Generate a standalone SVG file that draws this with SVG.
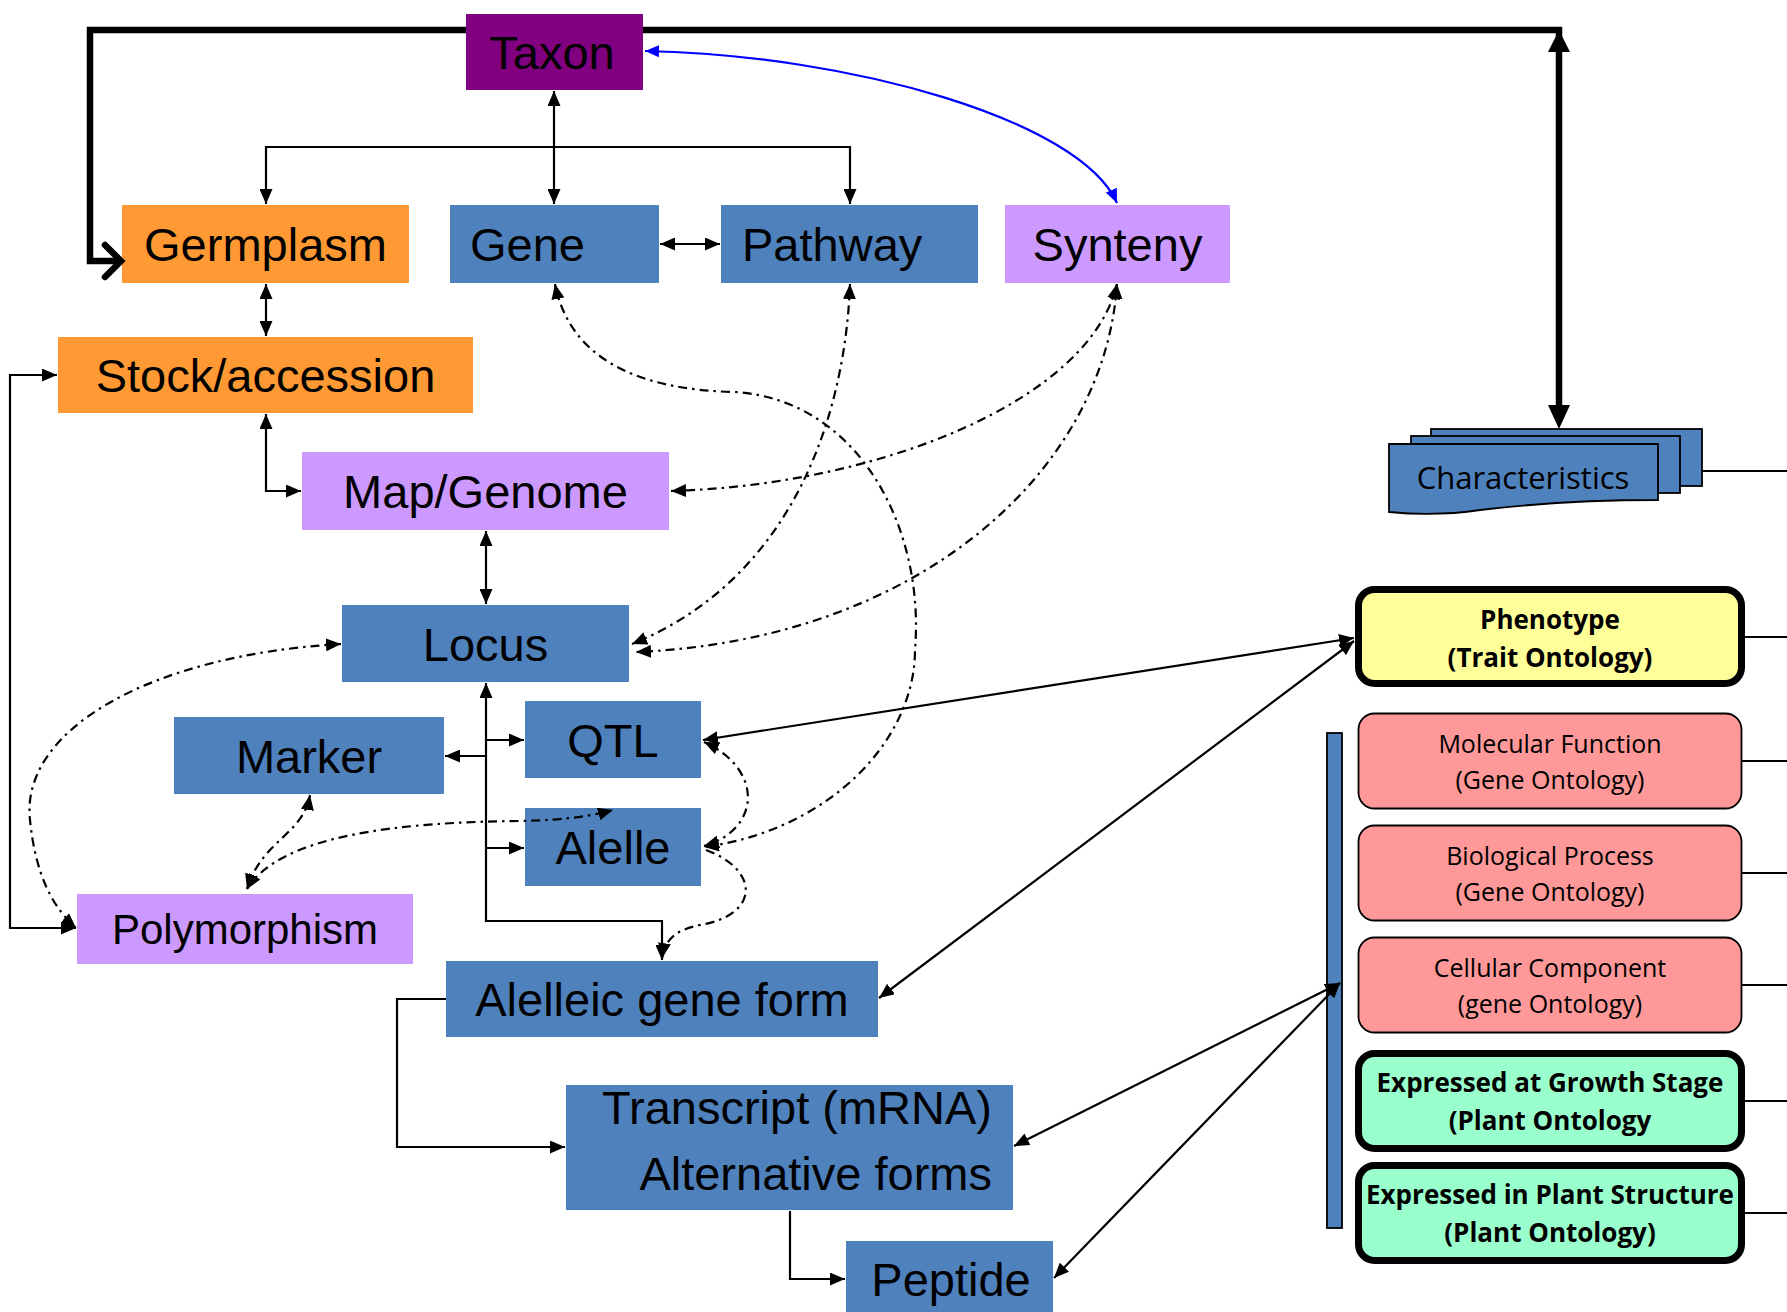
<svg xmlns="http://www.w3.org/2000/svg" width="1787" height="1312" viewBox="0 0 1787 1312">
<style>
.n{font-family:"Liberation Sans",Arial,sans-serif;font-size:47px;fill:#000}
.c{text-anchor:middle}
.sm{font-size:42px}
.o{font-family:"Open Sans","Liberation Sans",sans-serif;font-size:25px;fill:#000;text-anchor:middle}
.ob{font-family:"Open Sans","Liberation Sans",sans-serif;font-size:26px;font-weight:bold;fill:#000;text-anchor:middle}
.ln{fill:none;stroke:#000;stroke-width:2.2}
.dd{fill:none;stroke:#000;stroke-width:2.2;stroke-dasharray:9 5 2.5 5}
.thick{fill:none;stroke:#000;stroke-width:6.5}
.tl{fill:none;stroke:#000;stroke-width:1.8}
.blue{fill:#4F81BD}.orange{fill:#FF9933}.lilac{fill:#CC99FF}.purple{fill:#800080}
.pink{fill:#FF9999;stroke:#000;stroke-width:1.8}
.yel{fill:#FFFF99;stroke:#000;stroke-width:7}
.grn{fill:#99FFCC;stroke:#000;stroke-width:7}
</style>
<defs>
<marker id="a" markerUnits="userSpaceOnUse" markerWidth="15" markerHeight="13" refX="15" refY="6.5" orient="auto-start-reverse"><path d="M0,0 L15,6.5 L0,13 z" fill="#000"/></marker>
<marker id="b" markerUnits="userSpaceOnUse" markerWidth="14" markerHeight="12" refX="14" refY="6" orient="auto-start-reverse"><path d="M0,0 L14,6 L0,12 z" fill="#0000FF"/></marker>
</defs>

<g id="taxon"><rect class="purple" x="466" y="14" width="177" height="76"/><text class="n c" x="552" y="69">Taxon</text></g>
<g id="germplasm"><rect class="orange" x="122" y="205" width="287" height="78"/><text class="n c" x="265.5" y="261">Germplasm</text></g>
<g id="gene"><rect class="blue" x="450" y="205" width="209" height="78"/><text class="n" x="470" y="261">Gene</text></g>
<g id="pathway"><rect class="blue" x="721" y="205" width="257" height="78"/><text class="n" x="742" y="261">Pathway</text></g>
<g id="synteny"><rect class="lilac" x="1005" y="205" width="225" height="78"/><text class="n c" x="1117.5" y="261">Synteny</text></g>
<g id="stock"><rect class="orange" x="58" y="337" width="415" height="76"/><text class="n c" x="265.5" y="392">Stock/accession</text></g>
<g id="map"><rect class="lilac" x="302" y="452" width="367" height="78"/><text class="n c" x="485.5" y="508">Map/Genome</text></g>
<g id="locus"><rect class="blue" x="342" y="605" width="287" height="77"/><text class="n c" x="485.5" y="661">Locus</text></g>
<g id="qtl"><rect class="blue" x="525" y="701" width="176" height="77"/><text class="n c" x="613" y="757">QTL</text></g>
<g id="marker"><rect class="blue" x="174" y="717" width="270" height="77"/><text class="n c" x="309" y="773">Marker</text></g>
<g id="alelle"><rect class="blue" x="525" y="808" width="176" height="78"/><text class="n c" x="613" y="864">Alelle</text></g>
<g id="polymorphism"><rect class="lilac" x="77" y="894" width="336" height="70"/><text class="n c sm" x="245" y="944">Polymorphism</text></g>
<g id="alelleic"><rect class="blue" x="446" y="961" width="432" height="76"/><text class="n c" x="662" y="1016">Alelleic gene form</text></g>
<g id="transcript"><rect class="blue" x="566" y="1085" width="447" height="125"/><text class="n" x="992" y="1124" text-anchor="end">Transcript (mRNA)</text><text class="n" x="992" y="1190" text-anchor="end">Alternative forms</text></g>
<g id="peptide"><rect class="blue" x="846" y="1241" width="207" height="80"/><text class="n c" x="951" y="1296">Peptide</text></g>

<g id="characteristics">
<rect class="blue" x="1431" y="429" width="271" height="57" stroke="#000" stroke-width="1.8"/>
<rect class="blue" x="1411" y="436" width="269" height="57" stroke="#000" stroke-width="1.8"/>
<path class="blue" d="M1389 444 H1658 V500 C1600 500,1530 504,1480 510 C1440 516,1410 514,1389 512 Z" stroke="#000" stroke-width="1.8"/>
<text x="1523" y="489" font-family="'Open Sans','Liberation Sans',sans-serif" font-size="31" text-anchor="middle">Characteristics</text>
</g>

<g id="bar"><rect class="blue" x="1327" y="733" width="15" height="495" stroke="#000" stroke-width="1.8"/></g>

<g id="phenotype"><rect class="yel" x="1358.5" y="589.5" width="383" height="94" rx="16"/><text class="ob" x="1550" y="629">Phenotype</text><text class="ob" x="1550" y="667">(Trait Ontology)</text></g>
<g id="molecular"><rect class="pink" x="1358.5" y="713.5" width="383" height="95" rx="16"/><text class="o" x="1550" y="753">Molecular Function</text><text class="o" x="1550" y="789">(Gene Ontology)</text></g>
<g id="biological"><rect class="pink" x="1358.5" y="825.5" width="383" height="95" rx="16"/><text class="o" x="1550" y="865">Biological Process</text><text class="o" x="1550" y="901">(Gene Ontology)</text></g>
<g id="cellular"><rect class="pink" x="1358.5" y="937.5" width="383" height="95" rx="16"/><text class="o" x="1550" y="977">Cellular Component</text><text class="o" x="1550" y="1013">(gene Ontology)</text></g>
<g id="growth"><rect class="grn" x="1358.5" y="1053.5" width="383" height="95" rx="16"/><text class="ob" x="1550" y="1092">Expressed at Growth Stage</text><text class="ob" x="1550" y="1130">(Plant Ontology</text></g>
<g id="structure"><rect class="grn" x="1358.5" y="1165.5" width="383" height="95" rx="16"/><text class="ob" x="1550" y="1204">Expressed in Plant Structure</text><text class="ob" x="1550" y="1242">(Plant Ontology)</text></g>

<g id="connectors">
<path class="thick" d="M643 30 H1559 V410"/>
<path class="thick" d="M466 30 H90 V261 H118"/>
<path class="thick" d="M105 245 L121 261 L105 277" stroke-linecap="round"/>
<path d="M1559 30 L1548 52 L1570 52 z" fill="#000"/>
<path d="M1559 429 L1548 405 L1570 405 z" fill="#000"/>
<path d="M645 51 C850 55,1080 120,1117 203" fill="none" stroke="#0000FF" stroke-width="2.2" marker-start="url(#b)" marker-end="url(#b)"/>

<path class="ln" d="M554 91 V204" marker-start="url(#a)" marker-end="url(#a)"/>
<path class="ln" d="M266 204 V147 H850 V204" marker-start="url(#a)" marker-end="url(#a)"/>
<path class="ln" d="M660 244 H720" marker-start="url(#a)" marker-end="url(#a)"/>
<path class="ln" d="M266 284 V336" marker-start="url(#a)" marker-end="url(#a)"/>
<path class="ln" d="M266 414 V491 H301" marker-start="url(#a)" marker-end="url(#a)"/>
<path class="ln" d="M486 531 V604" marker-start="url(#a)" marker-end="url(#a)"/>
<path class="ln" d="M486 683 V921 H662 V960" marker-start="url(#a)" marker-end="url(#a)"/>
<path class="ln" d="M486 740 H524" marker-end="url(#a)"/>
<path class="ln" d="M486 756 H445" marker-end="url(#a)"/>
<path class="ln" d="M486 848 H524" marker-end="url(#a)"/>
<path class="ln" d="M76 928 H10 V375 H57" marker-start="url(#a)" marker-end="url(#a)"/>
<path class="ln" d="M446 999 H397 V1147 H565" marker-end="url(#a)"/>
<path class="ln" d="M790 1211 V1279 H845" marker-end="url(#a)"/>
<path class="ln" d="M703 740 L1354 638" marker-start="url(#a)" marker-end="url(#a)"/>
<path class="ln" d="M879 998 L1354 641" marker-start="url(#a)" marker-end="url(#a)"/>
<path class="ln" d="M1014 1146 L1340 983" marker-start="url(#a)" marker-end="url(#a)"/>
<path class="ln" d="M1054 1278 L1340 983" marker-start="url(#a)" marker-end="url(#a)"/>

<path class="dd" d="M555 284 C570 360,640 390,735 392 C860 400,925 530,915 650 C915 740,830 830,704 847" marker-start="url(#a)" marker-end="url(#a)"/>
<path class="dd" d="M850 284 C845 420,790 580,632 644" marker-start="url(#a)" marker-end="url(#a)"/>
<path class="dd" d="M1117 284 C1090 400,880 485,671 491" marker-start="url(#a)" marker-end="url(#a)"/>
<path class="dd" d="M1117 284 C1105 470,920 640,636 652" marker-start="url(#a)" marker-end="url(#a)"/>
<path class="dd" d="M341 644 C150 655,20 730,30 820 C35 870,50 905,76 928" marker-start="url(#a)" marker-end="url(#a)"/>
<path class="dd" d="M310 795 C303 835,262 840,247 889" marker-start="url(#a)" marker-end="url(#a)"/>
<path class="dd" d="M247 889 C280 835,400 822,520 821 C570 820,595 815,613 810" marker-start="url(#a)" marker-end="url(#a)"/>
<path class="dd" d="M704 742 C765 770,760 830,704 846" marker-start="url(#a)" marker-end="url(#a)"/>
<path class="dd" d="M706 850 C760 870,760 915,700 925 C675 930,665 940,662 958" marker-end="url(#a)"/>

<path class="tl" d="M1702 471 H1787"/>
<path class="tl" d="M1745 637 H1787"/>
<path class="tl" d="M1742 761 H1787"/>
<path class="tl" d="M1742 873 H1787"/>
<path class="tl" d="M1742 985 H1787"/>
<path class="tl" d="M1745 1101 H1787"/>
<path class="tl" d="M1745 1213 H1787"/>
</g>
</svg>
